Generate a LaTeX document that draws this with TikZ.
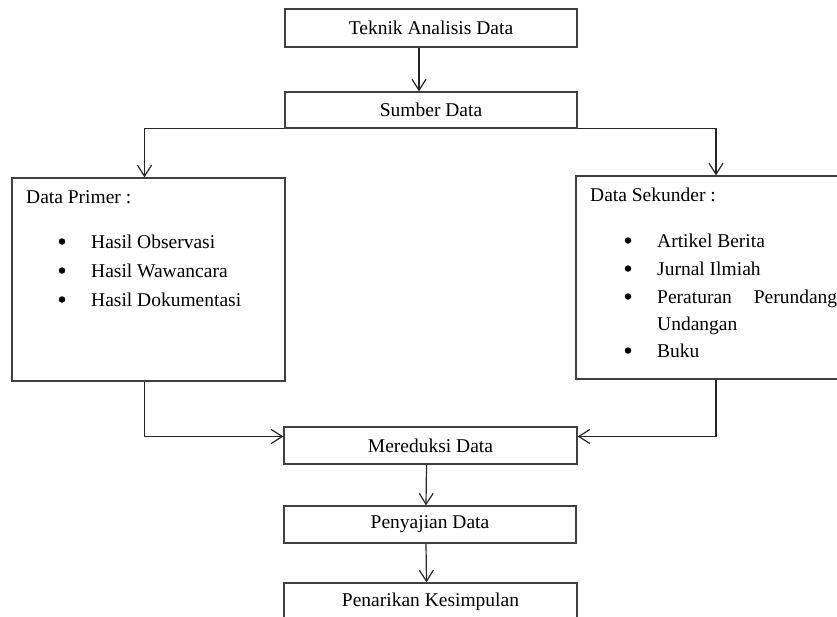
\documentclass[tikz,border=0pt]{standalone}
\usepackage{fontspec}
\setmainfont{Liberation Serif}
\usetikzlibrary{arrows.meta,positioning}

\begin{document}
\begin{tikzpicture}[x=1pt,y=-1pt,font=\fontsize{19.5}{23}\selectfont,
  kotak/.style={draw=black!75,line width=1.3pt,rectangle,inner sep=0pt,minimum width=292pt,minimum height=37pt},
  panah/.style={draw=black!85,line width=1.2pt,-{Straight Barb[length=11pt,width=14pt]}},
  teks/.style={anchor=base west,inner sep=0pt},
  titik/.style={circle,fill=black,inner sep=0pt,minimum size=6.5pt}]
  \useasboundingbox (0,0) rectangle (837,616);
  \clip (0,0) rectangle (837,616);
  % kotak utama
  \node[kotak,minimum height=38pt] (teknik) at (431,28) {Teknik Analisis Data};
  \node[kotak,minimum height=36pt] (sumber) at (431,110) {Sumber Data};
  \node[kotak,minimum width=273pt,minimum height=203pt] (primer) at (148.5,279.5) {};
  \node[kotak,minimum width=280pt,minimum height=203pt] (sekunder) at (716,277.5) {};
  \node[kotak,minimum width=293pt] (reduksi) at (430.5,445.5) {Mereduksi Data};
  \node[kotak] (saji) at (430,524.5) {Penyajian Data};
  \node[kotak,minimum width=293pt] (simpul) at (430.5,601.5) {Penarikan Kesimpulan};
  % isi data primer
  \node[teks] (judulprimer) at (26,203) {Data Primer :};
  \node[titik] (bp1) at (62,241.5) {};
  \node[titik] (bp2) at (62,270.5) {};
  \node[titik] (bp3) at (62,299.5) {};
  \node[teks] (p1) at (91,248) {Hasil Observasi};
  \node[teks] (p2) at (91,277) {Hasil Wawancara};
  \node[teks] (p3) at (91,306) {Hasil Dokumentasi};
  % isi data sekunder
  \node[teks] (judulsekunder) at (590,201) {Data Sekunder :};
  \node[titik] (bs1) at (628,240.5) {};
  \node[titik] (bs2) at (628,268.5) {};
  \node[titik] (bs3) at (628,296.5) {};
  \node[titik] (bs4) at (628,350.5) {};
  \node[teks] (s1) at (657,247) {Artikel Berita};
  \node[teks] (s2) at (657,275) {Jurnal Ilmiah};
  \node[teks] (s3) at (657,303) {\makebox[180pt][s]{Peraturan Perundang}};
  \node[teks] (s3b) at (657,330) {Undangan};
  \node[teks] (s4) at (657,357) {Buku};
  % panah
  \draw[panah] ([xshift=-12pt]teknik.south) -- ([xshift=-12pt]sumber.north);
  \draw[panah] (sumber.south west) -| ([xshift=-4pt]primer.north);
  \draw[panah] (sumber.south east) -| (sekunder.north);
  \draw[panah] ([xshift=-4pt]primer.south) |- ([yshift=9pt]reduksi.west);
  \draw[panah] (sekunder.south) |- ([yshift=9pt]reduksi.east);
  \draw[panah] ([xshift=-4pt]reduksi.south) -- ([xshift=-4pt]saji.north);
  \draw[panah] ([xshift=-4pt]saji.south) -- ([xshift=-4pt]simpul.north);
\end{tikzpicture}
\end{document}
